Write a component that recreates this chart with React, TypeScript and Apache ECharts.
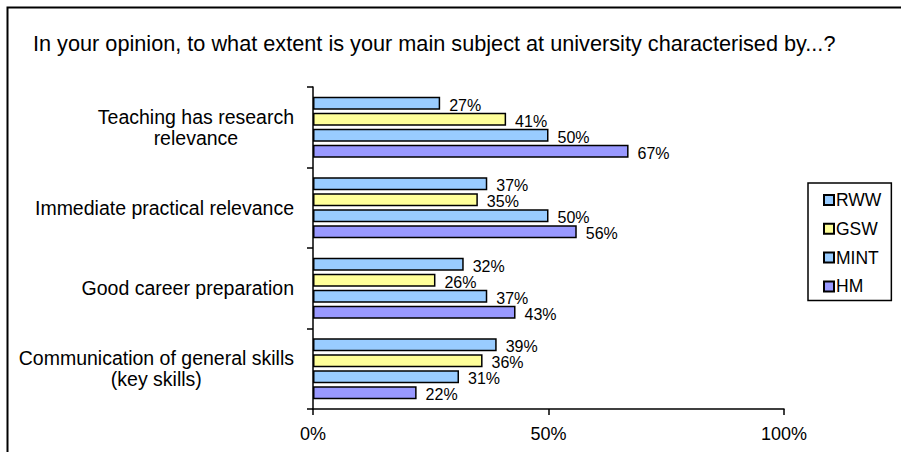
import React, { useEffect, useRef } from "react";
import * as echarts from "echarts";

const categories = [
  "Teaching has research\nrelevance",
  "Immediate practical relevance",
  "Good career preparation",
  "Communication of general skills\n(key skills)",
];
const seriesNames = ["RWW", "GSW", "MINT", "HM"];
const rwwValues = [27, 37, 32, 39];
const gswValues = [41, 35, 26, 36];
const mintValues = [50, 50, 37, 31];
const hmValues = [67, 56, 43, 22];
const xTicks = [0, 50, 100];
const colors = ["#99CCFF", "#FFFF99", "#99CCFF", "#9999FF"];

const FONT = "Liberation Sans, Arial, sans-serif";

export default function App() {
  const ref = useRef<HTMLDivElement>(null);
  useEffect(() => {
    if (!ref.current) return;
    const chart = echarts.init(ref.current, null, { renderer: "svg" });
    const values = [rwwValues, gswValues, mintValues, hmValues];
    chart.setOption({
      animation: false,
      backgroundColor: "#ffffff",
      textStyle: { fontFamily: FONT },
      title: {
        text: "In your opinion, to what extent is your main subject at university characterised by...?",
        left: 33,
        top: 32,
        padding: 0,
        textStyle: { fontFamily: FONT, fontSize: 21.7, lineHeight: 22, fontWeight: "normal", color: "#000" },
      },
      graphic: [
        {
          type: "rect",
          shape: { x: 7.5, y: 7.5, width: 1000, height: 1000 },
          style: { fill: "none", stroke: "#000", lineWidth: 2 },
          silent: true,
        },
      ],
      legend: {
        data: seriesNames,
        orient: "vertical",
        left: 808,
        top: 183,
        padding: [8, 10, 5, 15],
        itemGap: 10.8,
        itemWidth: 10,
        itemHeight: 10,
        icon: "rect",
        borderColor: "#000",
        borderWidth: 1.5,
        textStyle: { fontFamily: FONT, fontSize: 17.5, lineHeight: 17, color: "#000", padding: [0, 0, 0, -3] },
      },
      grid: { left: 313, right: 117, top: 87, height: 322, containLabel: false },
      xAxis: {
        type: "value",
        min: xTicks[0],
        max: xTicks[xTicks.length - 1],
        interval: xTicks[1] - xTicks[0],
        axisLine: { show: true, lineStyle: { color: "#000", width: 1.5 } },
        axisTick: { show: true, length: 6, lineStyle: { color: "#000", width: 1.5 } },
        splitLine: { show: false },
        axisLabel: { formatter: "{value}%", fontSize: 18, color: "#000", margin: 16, fontFamily: FONT },
      },
      yAxis: {
        type: "category",
        data: categories,
        inverse: true,
        axisLine: { show: true, lineStyle: { color: "#000", width: 1.5 } },
        axisTick: { show: true, length: 6, lineStyle: { color: "#000", width: 1.5 } },
        axisLabel: {
          margin: 19,
          color: "#000",
          fontSize: 19.5,
          lineHeight: 21,
          fontFamily: FONT,
          formatter: (v: string) => v.split("\n").map((l) => `{c|${l}}`).join("\n"),
          rich: { c: { align: "center", fontSize: 19.5, lineHeight: 21, fontFamily: FONT, color: "#000" } },
        },
      },
      series: seriesNames.map((name, i) => ({
        name,
        type: "bar",
        data: values[i],
        barWidth: 13,
        barGap: "23%",
        itemStyle: { color: colors[i], borderColor: "#000", borderWidth: 1.5 },
        label: {
          show: true,
          position: "right",
          distance: 9,
          offset: [0, 2],
          formatter: "{c}%",
          fontSize: 16,
          lineHeight: 14,
          color: "#000",
          fontFamily: FONT,
        },
      })),
    });
    return () => chart.dispose();
  }, []);
  return (
    <div
      ref={ref}
      style={{ position: "fixed", left: 0, top: 0, width: 901, height: 452 }}
    />
  );
}
